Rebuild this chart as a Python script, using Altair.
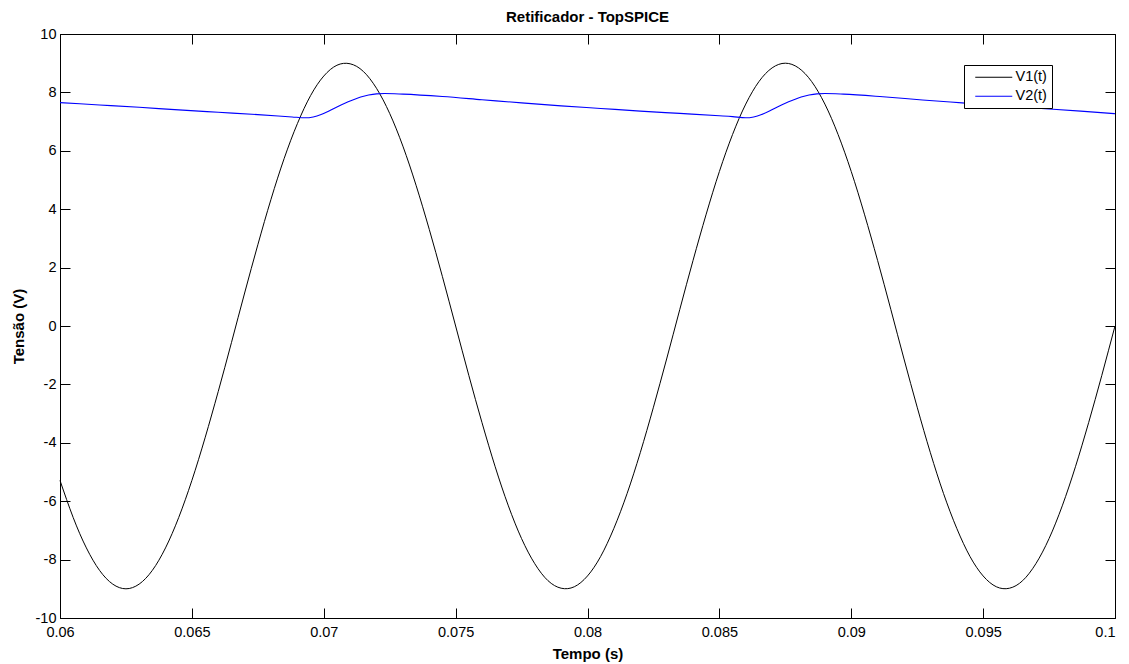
import altair as alt
import pandas as pd

# ---- data ----
v1_time = [0.0600, 0.0605, 0.0610, 0.0615, 0.0620, 0.0625, 0.0630, 0.0635, 0.0640, 0.0645,
           0.0650, 0.0655, 0.0660, 0.0665, 0.0670, 0.0675, 0.0680, 0.0685, 0.0690, 0.0695,
           0.0700, 0.0705, 0.0710, 0.0715, 0.0720, 0.0725, 0.0730, 0.0735, 0.0740, 0.0745,
           0.0750, 0.0755, 0.0760, 0.0765, 0.0770, 0.0775, 0.0780, 0.0785, 0.0790, 0.0795,
           0.0800, 0.0805, 0.0810, 0.0815, 0.0820, 0.0825, 0.0830, 0.0835, 0.0840, 0.0845,
           0.0850, 0.0855, 0.0860, 0.0865, 0.0870, 0.0875, 0.0880, 0.0885, 0.0890, 0.0895,
           0.0900, 0.0905, 0.0910, 0.0915, 0.0920, 0.0925, 0.0930, 0.0935, 0.0940, 0.0945,
           0.0950, 0.0955, 0.0960, 0.0965, 0.0970, 0.0975, 0.0980, 0.0985, 0.0990, 0.0995,
           0.1000]
v1_values = [-5.29, -6.56, -7.60, -8.37, -8.84, -9.00, -8.84, -8.37, -7.60, -6.56,
             -5.29, -3.83, -2.24, -0.57, 1.13, 2.78, 4.34, 5.74, 6.93, 7.89,
             8.56, 8.93, 8.98, 8.72, 8.14, 7.28, 6.16, 4.82, 3.31, 1.69,
             0.00, -1.69, -3.31, -4.82, -6.16, -7.28, -8.14, -8.72, -8.98, -8.93,
             -8.56, -7.89, -6.93, -5.74, -4.34, -2.78, -1.13, 0.57, 2.24, 3.83,
             5.29, 6.56, 7.60, 8.37, 8.84, 9.00, 8.84, 8.37, 7.60, 6.56,
             5.29, 3.83, 2.24, 0.57, -1.13, -2.78, -4.34, -5.74, -6.93, -7.89,
             -8.56, -8.93, -8.98, -8.72, -8.14, -7.28, -6.16, -4.82, -3.31, -1.69,
             0.00]

v2_time = [0.0600, 0.0615, 0.0630, 0.0645, 0.0660, 0.0675, 0.0688, 0.0693, 0.0696, 0.0699,
           0.0702, 0.0705, 0.0708, 0.0711, 0.0714, 0.0717, 0.0720, 0.0723, 0.0730, 0.0745,
           0.0760, 0.0775, 0.0790, 0.0805, 0.0820, 0.0835, 0.0850, 0.0855, 0.0860, 0.0863,
           0.0866, 0.0869, 0.0872, 0.0875, 0.0878, 0.0881, 0.0884, 0.0887, 0.0890, 0.0897,
           0.0912, 0.0927, 0.0942, 0.0957, 0.0972, 0.0987, 0.1000]
v2_values = [7.65, 7.57, 7.49, 7.40, 7.32, 7.24, 7.16, 7.13, 7.16, 7.24,
             7.36, 7.50, 7.63, 7.74, 7.84, 7.91, 7.95, 7.96, 7.94, 7.86,
             7.75, 7.64, 7.54, 7.45, 7.36, 7.28, 7.20, 7.17, 7.13, 7.16,
             7.24, 7.36, 7.50, 7.63, 7.74, 7.84, 7.91, 7.95, 7.96, 7.94,
             7.85, 7.74, 7.64, 7.54, 7.45, 7.36, 7.27]

series_names = ["V1(t)", "V2(t)"]
series_colors = ["#000000", "#0000ff"]

x_ticks = [0.06, 0.065, 0.07, 0.075, 0.08, 0.085, 0.09, 0.095, 0.1]
y_ticks = [-10, -8, -6, -4, -2, 0, 2, 4, 6, 8, 10]

df = pd.concat([
    pd.DataFrame({"series": series_names[0], "t": v1_time, "v": v1_values}),
    pd.DataFrame({"series": series_names[1], "t": v2_time, "v": v2_values}),
], ignore_index=True)

W, H = 1055, 584
FONT = "Liberation Sans"

xscale = alt.Scale(domain=[0.06, 0.1], nice=False, zero=False)
yscale = alt.Scale(domain=[-10, 10], nice=False, zero=False)

base = alt.Chart(df)

x_main = alt.X("t:Q", scale=xscale,
               axis=alt.Axis(orient="bottom", values=x_ticks, ticks=False, tickSize=0,
                             labelPadding=7, labelFlush=False,
                             labelAlign=alt.expr("datum.value >= 0.1 ? 'right' : 'center'"),
                             labelExpr="'' + datum.value",
                             title="Tempo (s)", titlePadding=8, grid=False))
y_main = alt.Y("v:Q", scale=yscale,
               axis=alt.Axis(orient="left", values=y_ticks, ticks=False, tickSize=0,
                             labelPadding=4, labelFlush=False,
                             labelExpr="'' + datum.value",
                             title="Tensão (V)", titlePadding=9, grid=False))
color_enc = alt.Color("series:N",
                      scale=alt.Scale(domain=series_names, range=series_colors),
                      legend=alt.Legend(orient="none", legendX=904, legendY=31, title=None,
                                        symbolType="M-0.25,0H9", symbolSize=64,
                                        symbolStrokeWidth=1.1, labelOffset=32,
                                        labelFontSize=14.5, labelFont=FONT,
                                        labelColor="black",
                                        padding=5, rowPadding=4, strokeColor="black",
                                        fillColor="white", cornerRadius=0))

line_v1 = base.transform_filter(alt.datum.series == series_names[0]).mark_line(
    interpolate="natural", strokeWidth=1.0
).encode(x=x_main, y=y_main, color=color_enc)

line_v2 = base.transform_filter(alt.datum.series == series_names[1]).mark_line(
    interpolate="monotone", strokeWidth=1.1
).encode(x=alt.X("t:Q", scale=xscale, axis=None),
         y=alt.Y("v:Q", scale=yscale, axis=None),
         color=color_enc)

tick_axis = dict(labels=False, domain=False, ticks=True, tickSize=10, title=None,
                 grid=False, tickColor="black", tickWidth=1)

ticks_a = base.mark_point(opacity=0).encode(
    x=alt.X("t:Q", scale=xscale,
            axis=alt.Axis(orient="top", offset=-H, values=x_ticks, **tick_axis)),
    y=alt.Y("v:Q", scale=yscale,
            axis=alt.Axis(orient="right", offset=-W, values=y_ticks, **tick_axis)),
)

ticks_b = base.mark_point(opacity=0).encode(
    x=alt.X("t:Q", scale=xscale,
            axis=alt.Axis(orient="bottom", offset=-H, values=x_ticks, **tick_axis)),
    y=alt.Y("v:Q", scale=yscale,
            axis=alt.Axis(orient="left", offset=-W, values=y_ticks, **tick_axis)),
)

chart = alt.layer(line_v1, line_v2, ticks_a, ticks_b).resolve_axis(
    x="independent", y="independent"
).properties(
    width=W, height=H,
    title=alt.TitleParams("Retificador - TopSPICE", fontSize=15, fontWeight="bold",
                          font=FONT, color="black", anchor="middle", offset=1),
    autosize=alt.AutoSizeParams(type="none"),
    padding={"left": 52, "top": 26, "right": 6, "bottom": 48},
).configure_view(
    stroke="black", strokeWidth=1
).configure_axis(
    labelFont=FONT, labelFontSize=14.5, labelColor="black",
    titleFont=FONT, titleFontSize=15, titleFontWeight="bold", titleColor="black",
    domainColor="black", domainWidth=1,
)

chart.save("out.html", embed_options={"renderer": "svg", "actions": False})
